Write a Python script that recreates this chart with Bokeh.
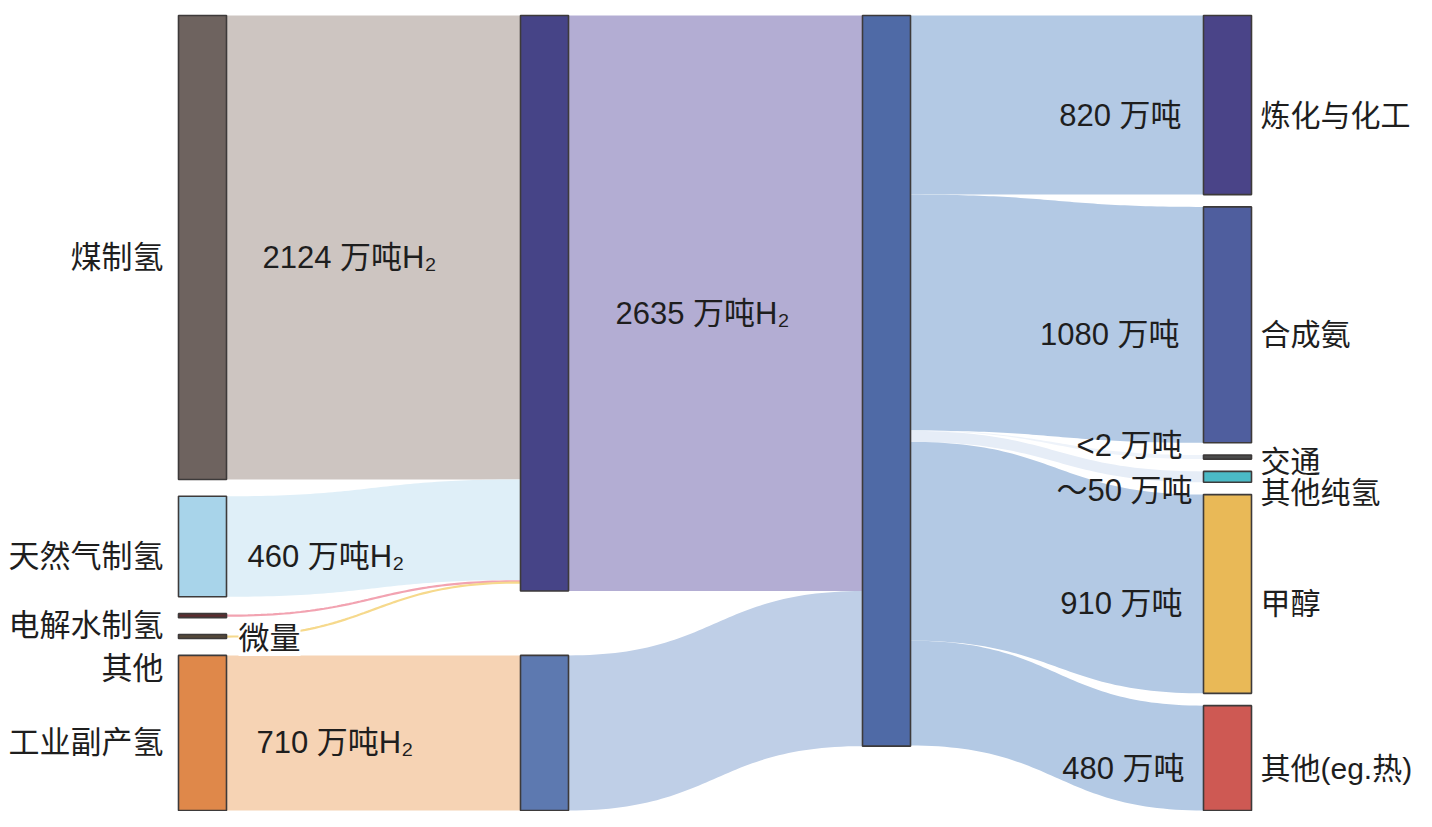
import numpy as np
from bokeh.plotting import figure
from bokeh.models import Range1d, Label
from bokeh.core.properties import value
from bokeh.embed import file_html
from bokeh.resources import INLINE

# ---------------- data (万吨 H2) ----------------
source_names = ["煤制氢", "天然气制氢", "电解水制氢", "其他", "工业副产氢"]
source_values = [2124, 460, 0, 0, 710]          # 0 = 微量 (trace)
source_link_labels = ["2124 万吨H₂", "460 万吨H₂", "微量", "", "710 万吨H₂"]
source_target = [0, 0, 0, 0, 1]                  # which middle node they feed

mid_values = [2635, 710]
mid_link_labels = ["2635 万吨H₂", ""]

total_value = 3345

use_names = ["炼化与化工", "合成氨", "交通", "其他纯氢", "甲醇", "其他(eg.热)"]
use_values = [820, 1080, 2, 50, 910, 480]
use_link_labels = ["820 万吨", "1080 万吨", "<2 万吨", "～50 万吨", "910 万吨", "480 万吨"]

# ---------------- styles ----------------
source_colors = ["#6e635f", "#a8d4ea", "#5c2b2e", "#55483a", "#df884a"]
source_link_colors = ["#cdc5c1", "#dfeff8", "#f2a3b1", "#f6d98c", "#f6d3b4"]
mid_colors = ["#464487", "#5d79b0"]
mid_link_colors = ["#b3add3", "#bfcfe7"]
total_color = "#4f6aa6"
use_colors = ["#4a4488", "#4f5e9e", "#4a4a4a", "#4bbac6", "#e9b957", "#ce5953"]
use_link_colors = ["#b3c9e4", "#b3c9e4", "#eef3fa", "#e6edf7", "#b3c9e4", "#b3c9e4"]

FONT_NAME = "Liberation Sans, Noto Sans CJK SC"
FONT = value(FONT_NAME)
FS = "31px"
FS_RIGHT = "30px"
TXT = "#1e1e1e"

# ---------------- layout ----------------
W, H = 1416, 811
PAD_T, PAD_B = 15, 1
GAP_PX = 13
MIN_PX = 4
COL_X = [178, 520, 862, 1203]
NODE_W = 48
LABEL_DY_PX = 10

avail = H - PAD_T - PAD_B
columns = [source_values, mid_values, [total_value], use_values]
s = min((avail - (len(c) - 1) * GAP_PX) / sum(c) for c in columns)   # px per 万吨
min_u = MIN_PX / s


def layout(vals):
    hs = [max(v, min_u) for v in vals]
    n = len(vals)
    gap = (avail / s - sum(hs)) / (n - 1) if n > 1 else 0
    tops, y = [], 0.0
    for h in hs:
        tops.append(y)
        y += h + gap
    return tops, hs


src_top, src_h = layout(source_values)
mid_top, mid_h = layout(mid_values)
tot_top, tot_h = layout([total_value])
use_top, use_h = layout(use_values)

p = figure(width=W, height=H, output_backend="svg", toolbar_location=None,
           x_range=Range1d(0, W), y_range=Range1d(start=(H - PAD_T) / s, end=-PAD_T / s),
           min_border=0, outline_line_color=None, background_fill_color="white")
p.xaxis.visible = False
p.yaxis.visible = False
p.grid.visible = False


def bez_x(x0, x1, t):
    c0 = x0 + (x1 - x0) * 0.5
    c1 = x1 - (x1 - x0) * 0.5
    return (1 - t) ** 3 * x0 + 3 * (1 - t) ** 2 * t * c0 + 3 * (1 - t) * t ** 2 * c1 + t ** 3 * x1


def bez_y(y0, y1, t):
    return y0 + (y1 - y0) * (3 * t ** 2 - 2 * t ** 3)


def band(x0, a0, b0, x1, a1, b1, n=60):
    t = np.linspace(0, 1, n)
    xs = bez_x(x0, x1, t)
    top = bez_y(a0, a1, t)
    bot = bez_y(b0, b1, t)
    return list(xs) + list(xs[::-1]), list(top) + list(bot[::-1])


band_xs, band_ys, band_cols = [], [], []
line_xs, line_ys, line_cols = [], [], []

# sources -> middle
mid_in = [mid_top[0], mid_top[1]]
for i, v in enumerate(source_values):
    j = source_target[i]
    x0 = COL_X[0] + NODE_W
    x1 = COL_X[1]
    if v > 0:
        xs, ys = band(x0, src_top[i], src_top[i] + v, x1, mid_in[j], mid_in[j] + v)
        band_xs.append(xs); band_ys.append(ys); band_cols.append(source_link_colors[i])
        mid_in[j] += v
    else:
        t = np.linspace(0, 1, 60)
        y0 = src_top[i] + src_h[i] / 2
        y1 = mid_in[j] + (6 if i == 2 else 12)
        line_xs.append(list(bez_x(x0, x1, t)))
        line_ys.append(list(bez_y(y0, y1, t)))
        line_cols.append(source_link_colors[i])

# middle -> total
tot_in = tot_top[0]
for j, v in enumerate(mid_values):
    xs, ys = band(COL_X[1] + NODE_W, mid_top[j], mid_top[j] + v, COL_X[2], tot_in, tot_in + v)
    band_xs.append(xs); band_ys.append(ys); band_cols.append(mid_link_colors[j])
    tot_in += v

# total -> uses
tot_out = tot_top[0]
for k, v in enumerate(use_values):
    xs, ys = band(COL_X[2] + NODE_W, tot_out, tot_out + v, COL_X[3], use_top[k], use_top[k] + use_h[k])
    band_xs.append(xs); band_ys.append(ys); band_cols.append(use_link_colors[k])
    tot_out += v

p.patches(band_xs, band_ys, fill_color=band_cols, line_color=None)
p.multi_line(line_xs, line_ys, line_color=line_cols, line_width=2.2)

# nodes
NODE_LINE = "#3d3a3a"
for col, tops, hs, cols in [(0, src_top, src_h, source_colors), (1, mid_top, mid_h, mid_colors),
                            (2, tot_top, tot_h, [total_color]), (3, use_top, use_h, use_colors)]:
    p.quad(left=[COL_X[col]] * len(tops), right=[COL_X[col] + NODE_W] * len(tops),
           top=tops, bottom=[t + h for t, h in zip(tops, hs)],
           fill_color=cols, line_color=NODE_LINE, line_width=1.6)

dy = LABEL_DY_PX / s

# left node labels
src_label_dy = [0, 0, 0, 22, 0]
p.text(x=[COL_X[0] - 15] * len(source_names),
       y=[t + h / 2 + dy + src_label_dy[i] / s for i, (t, h) in enumerate(zip(src_top, src_h))],
       text=source_names, text_align="right", text_baseline="middle",
       text_font=FONT, text_font_size=FS, text_color=TXT)

# left link labels
src_lab_x = [262, 247, 238, None, 256]
for i, lab in enumerate(source_link_labels):
    if not lab:
        continue
    if i == 2:
        yy = src_top[3] + src_h[3] / 2 + dy * 0.2
        p.add_layout(Label(x=src_lab_x[i], y=yy, text=lab, text_align="left", text_baseline="middle",
                           text_font=FONT_NAME, text_font_size=FS,
                           text_color=TXT, background_fill_color="white"))
    else:
        p.text(x=[src_lab_x[i]], y=[src_top[i] + src_h[i] / 2 + dy], text=[lab],
               text_align="left", text_baseline="middle", text_font=FONT,
               text_font_size=FS, text_color=TXT)

# middle link label
p.text(x=[615], y=[mid_top[0] + mid_h[0] / 2 + dy], text=[mid_link_labels[0]],
       text_align="left", text_baseline="middle", text_font=FONT, text_font_size=FS, text_color=TXT)

# right link labels
use_lab_x = [1181, 1179, 1182, 1192, 1182, 1184]
use_lab_dy = [0, 0, -22, 4, 0, 0]
p.text(x=use_lab_x,
       y=[t + h / 2 + dy + use_lab_dy[k] / s for k, (t, h) in enumerate(zip(use_top, use_h))],
       text=use_link_labels, text_align="right", text_baseline="middle",
       text_font=FONT, text_font_size=FS, text_color=TXT)

# right node labels
use_name_dy = [0, 0, -6, 6, 0, 0]
p.text(x=[COL_X[3] + NODE_W + 9] * len(use_names),
       y=[t + h / 2 + dy + use_name_dy[k] / s for k, (t, h) in enumerate(zip(use_top, use_h))],
       text=use_names, text_align="left", text_baseline="middle",
       text_font=FONT, text_font_size=FS_RIGHT, text_color=TXT)

open("out.html", "w").write(file_html(p, INLINE))
